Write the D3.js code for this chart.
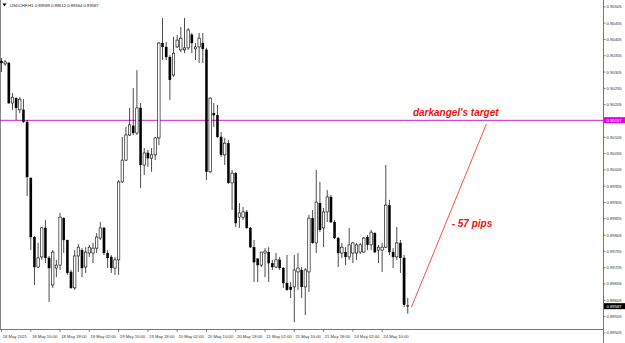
<!DOCTYPE html>
<html><head><meta charset="utf-8">
<script src="https://cdnjs.cloudflare.com/ajax/libs/d3/7.8.5/d3.min.js"></script>
<style>html,body{margin:0;padding:0;background:#fff;}svg{display:block;}</style>
</head><body><svg id="c" width="625" height="343"></svg>
<script>
const symbol = "USDCHF,H1";
const opens = [
0.90339,0.90330,0.90333,0.90210,0.90225,0.90189,0.90189,0.90152,0.89980,0.89799,
0.89707,0.89738,0.89827,0.89735,0.89652,0.89704,0.89713,0.89857,0.89790,0.89692,
0.89643,0.89741,0.89759,0.89707,0.89750,0.89750,0.89765,0.89796,0.89827,0.89750,
0.89738,0.89704,0.89729,0.89968,0.90035,0.90112,0.90140,0.90118,0.90195,0.90020,
0.90057,0.90041,0.90051,0.90103,0.90394,0.90382,0.90351,0.90296,0.90382,0.90373,
0.90373,0.90379,0.90419,0.90376,0.90382,0.90394,0.90373,0.89999,0.90179,0.90173,
0.90106,0.90051,0.90087,0.89965,0.89995,0.89860,0.89860,0.89876,0.89827,0.89768,
0.89732,0.89713,0.89750,0.89753,0.89719,0.89707,0.89729,0.89704,0.89658,0.89646,
0.89646,0.89692,0.89698,0.89646,0.89692,0.89857,0.89781,0.89903,0.89827,0.89876,
0.89922,0.89845,0.89796,0.89750,0.89753,0.89738,0.89750,0.89750,0.89753,0.89753,
0.89799,0.89775,0.89811,0.89759,0.89759,0.89768,0.89897,0.89753,0.89738,0.89781,
0.89735,0.89589];
const highs = [
0.90348,0.90342,0.90336,0.90241,0.90228,0.90228,0.90222,0.90158,0.89983,0.89802,
0.89781,0.89830,0.89851,0.89741,0.89759,0.89729,0.89873,0.89860,0.89790,0.89698,
0.89759,0.89778,0.89765,0.89768,0.89775,0.89781,0.89811,0.89845,0.89830,0.89759,
0.89744,0.89738,0.89974,0.90106,0.90137,0.90195,0.90256,0.90311,0.90210,0.90072,
0.90066,0.90072,0.90106,0.90397,0.90471,0.90397,0.90357,0.90413,0.90419,0.90443,
0.90471,0.90440,0.90425,0.90394,0.90425,0.90425,0.90379,0.90228,0.90210,0.90204,
0.90121,0.90103,0.90097,0.90005,0.89999,0.89903,0.89891,0.89882,0.89830,0.89790,
0.89735,0.89753,0.89765,0.89768,0.89729,0.89750,0.89738,0.89707,0.89744,0.89661,
0.89744,0.89750,0.89707,0.89704,0.89867,0.89882,0.90005,0.89968,0.89888,0.89943,
0.89928,0.89851,0.89799,0.89781,0.89768,0.89827,0.89784,0.89781,0.89781,0.89799,
0.89805,0.89821,0.89814,0.89775,0.89781,0.90020,0.89913,0.89765,0.89830,0.89790,
0.89744,0.89612];
const lows = [
0.90305,0.90324,0.90207,0.90189,0.90158,0.90179,0.90149,0.89925,0.89759,0.89652,
0.89704,0.89729,0.89719,0.89600,0.89643,0.89676,0.89698,0.89750,0.89683,0.89640,
0.89637,0.89692,0.89676,0.89689,0.89738,0.89719,0.89750,0.89790,0.89744,0.89704,
0.89689,0.89683,0.89683,0.89965,0.90032,0.90109,0.90112,0.90112,0.89949,0.89989,
0.90014,0.89999,0.90035,0.90081,0.90342,0.90342,0.90219,0.90290,0.90379,0.90366,
0.90363,0.90373,0.90363,0.90342,0.90333,0.90333,0.89974,0.89995,0.90137,0.90103,
0.90045,0.90020,0.89962,0.89882,0.89830,0.89827,0.89851,0.89824,0.89765,0.89661,
0.89661,0.89707,0.89676,0.89661,0.89698,0.89704,0.89698,0.89643,0.89634,0.89612,
0.89538,0.89637,0.89612,0.89560,0.89630,0.89778,0.89750,0.89814,0.89768,0.89845,
0.89842,0.89793,0.89707,0.89735,0.89713,0.89729,0.89719,0.89729,0.89747,0.89750,
0.89759,0.89759,0.89750,0.89719,0.89692,0.89765,0.89744,0.89704,0.89729,0.89689,
0.89584,0.89564];
const closes = [
0.90333,0.90336,0.90210,0.90228,0.90195,0.90222,0.90152,0.89983,0.89799,0.89707,
0.89735,0.89827,0.89735,0.89704,0.89753,0.89713,0.89860,0.89790,0.89689,0.89643,
0.89741,0.89768,0.89704,0.89753,0.89768,0.89765,0.89799,0.89827,0.89750,0.89735,
0.89704,0.89729,0.89968,0.90035,0.90112,0.90143,0.90118,0.90195,0.90020,0.90057,
0.90041,0.90051,0.90103,0.90394,0.90382,0.90351,0.90281,0.90363,0.90403,0.90409,
0.90379,0.90434,0.90394,0.90382,0.90409,0.90376,0.89999,0.90225,0.90173,0.90106,
0.90051,0.90087,0.89965,0.89995,0.89842,0.89873,0.89876,0.89827,0.89768,0.89722,
0.89713,0.89753,0.89756,0.89719,0.89707,0.89729,0.89704,0.89658,0.89637,0.89637,
0.89698,0.89704,0.89646,0.89698,0.89857,0.89781,0.89906,0.89821,0.89876,0.89922,
0.89845,0.89796,0.89750,0.89768,0.89738,0.89775,0.89781,0.89775,0.89775,0.89796,
0.89775,0.89814,0.89753,0.89768,0.89768,0.89897,0.89753,0.89738,0.89781,0.89735,
0.89591,0.89587];
const timeLabels = ["18 May 2021","18 May 10:00","18 May 18:00","19 May 02:00","19 May 10:00","19 May 18:00","20 May 02:00","20 May 10:00","20 May 18:00","21 May 02:00","21 May 10:00","21 May 18:00","24 May 02:00","24 May 10:00"];
const timeLabelBars = [0,8,16,24,32,40,48,56,64,72,80,88,96,104];
const priceTicks = [0.90505,0.90455,0.90405,0.90355,0.90305,0.90255,0.90205,0.90155,0.90105,0.90055,0.90005,0.89955,0.89905,0.89855,0.89805,0.89755,0.89705,0.89655,0.89605,0.89555,0.89505];
const targetPrice = 0.90157;
const targetText = "darkangel's target";
const pipsText = "- 57 pips";
const moveLine = [{bar:112, price:0.89584},{bar:132.5, price:0.90146}];

const svg = d3.select("#c");
const n = opens.length;
const x = d3.scaleLinear().domain([0, n - 1]).range([1.5, 407.76]);
const y = d3.scaleLinear().domain([0.89517, 0.90526]).range([329, 0]);
const fmt = d3.format(".5f");
const axisFont = "'Liberation Sans', Arial, sans-serif";

// frame
svg.append("line").attr("x1",0.5).attr("x2",0.5).attr("y1",0).attr("y2",329).attr("stroke","#888").attr("stroke-width",1);
svg.append("line").attr("x1",0).attr("x2",603.5).attr("y1",329.5).attr("y2",329.5).attr("stroke","#777").attr("stroke-width",1);
svg.append("line").attr("x1",603.5).attr("x2",603.5).attr("y1",0).attr("y2",343).attr("stroke","#777").attr("stroke-width",1);

// target horizontal line
svg.append("line").attr("x1",0).attr("x2",603).attr("y1",y(targetPrice)).attr("y2",y(targetPrice))
  .attr("stroke","#c800c8").attr("stroke-width",0.9);

// candles
const idx = d3.range(n);
const g = svg.append("g");
g.selectAll("line.w").data(idx).join("line").attr("class","w")
  .attr("x1",i=>x(i)).attr("x2",i=>x(i))
  .attr("y1",i=>y(highs[i])).attr("y2",i=>y(lows[i]))
  .attr("stroke","#111").attr("stroke-width",0.75);
g.selectAll("rect.b").data(idx).join("rect").attr("class","b")
  .attr("x",i=>x(i)-1.2).attr("width",2.4)
  .attr("y",i=>y(Math.max(opens[i],closes[i])))
  .attr("height",i=>Math.max(0.7, Math.abs(y(opens[i])-y(closes[i]))))
  .attr("fill",i=>closes[i]>=opens[i]?"#fff":"#000")
  .attr("stroke","#000").attr("stroke-width",i=>closes[i]>=opens[i]?0.6:0.2);

// price axis
const pa = svg.append("g").attr("font-family",axisFont).attr("font-size",4.2).attr("fill","#333");
priceTicks.forEach(p=>{
  pa.append("line").attr("x1",603).attr("x2",605.5).attr("y1",y(p)).attr("y2",y(p)).attr("stroke","#555").attr("stroke-width",0.7);
  pa.append("text").attr("x",606.5).attr("y",y(p)).attr("dy","0.35em").text(fmt(p));
});
// time axis
const ta = svg.append("g").attr("font-family",axisFont).attr("font-size",4.2).attr("fill","#333");
timeLabelBars.forEach((b,k)=>{
  ta.append("line").attr("x1",x(b)).attr("x2",x(b)).attr("y1",329.5).attr("y2",332).attr("stroke","#555").attr("stroke-width",0.7);
  ta.append("text").attr("x",x(b)+1.2).attr("y",337.5).text(timeLabels[k]);
});

// price labels (target and current)
const last = n - 1;
svg.append("rect").attr("x",604).attr("y",y(targetPrice)-3.2).attr("width",21).attr("height",6).attr("fill","#e600e6");
svg.append("text").attr("x",606.5).attr("y",y(targetPrice)).attr("dy","0.35em").attr("font-family",axisFont)
  .attr("font-size",4.2).attr("fill","#fff").text(fmt(targetPrice));
svg.append("rect").attr("x",604).attr("y",y(closes[last])-3).attr("width",21).attr("height",6).attr("fill","#000");
svg.append("text").attr("x",606.5).attr("y",y(closes[last])).attr("dy","0.35em").attr("font-family",axisFont)
  .attr("font-size",4.2).attr("fill","#fff").text(fmt(closes[last]));

// header
svg.append("path").attr("d","M2.5,3.5 L6.5,3.5 L4.5,6.5 Z").attr("fill","#000");
svg.append("text").attr("x",10).attr("y",6.5).attr("font-family",axisFont).attr("font-size",4.2).attr("fill","#222")
  .text(symbol+" "+[opens[last],highs[last],lows[last],closes[last]].map(fmt).join(" "));

// move line and annotations
svg.append("line").attr("x1",x(moveLine[0].bar)).attr("y1",y(moveLine[0].price))
  .attr("x2",x(moveLine[1].bar)).attr("y2",y(moveLine[1].price))
  .attr("stroke","#ff3b3b").attr("stroke-width",0.9);
svg.append("text").attr("x",x(112.4)).attr("y",y(targetPrice)-4)
  .attr("font-family",axisFont).attr("font-size",10).attr("font-weight","bold").attr("font-style","italic")
  .attr("fill","#ee1111").text(targetText);
svg.append("text").attr("x",x(123)).attr("y",226.5)
  .attr("font-family",axisFont).attr("font-size",10).attr("font-weight","bold").attr("font-style","italic")
  .attr("fill","#ee1111").text(pipsText);
</script></body></html>
